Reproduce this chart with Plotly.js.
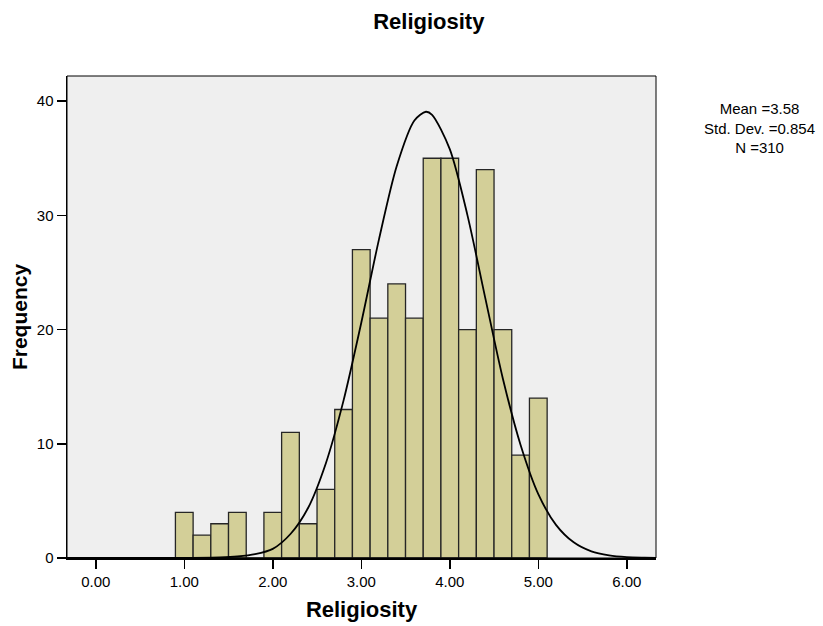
<!DOCTYPE html>
<html>
<head>
<meta charset="utf-8">
<script src="https://cdn.plot.ly/plotly-3.0.1.min.js"></script>
<style>html,body{margin:0;padding:0;background:#fff;}#chart{width:823px;height:626px;}</style>
</head>
<body>
<div id="chart"></div>
<script>
// Histogram bins (centres, bin width 0.2) and frequencies
const binCenters = [1.0, 1.2, 1.4, 1.6, 1.8, 2.0, 2.2, 2.4, 2.6, 2.8, 3.0, 3.2, 3.4, 3.6, 3.8, 4.0, 4.2, 4.4, 4.6, 4.8, 5.0];
const frequencies = [4, 2, 3, 4, 0, 4, 11, 3, 6, 13, 27, 21, 24, 21, 35, 35, 20, 34, 20, 9, 14];
const binWidth = 0.2;

// Normal curve, values
const curveX = [-0.33, 0.5, 1.0, 1.4, 1.6, 1.8, 2.0, 2.2, 2.4, 2.6, 2.8, 3.0, 3.2, 3.4, 3.6, 3.73, 3.8, 4.0, 4.2, 4.4, 4.6, 4.8, 5.0, 5.2, 5.4, 5.6, 5.8, 6.0, 6.2, 6.33];
const curveY = [0, 0, 0.01, 0.05, 0.13, 0.33, 0.8, 2.1, 4.4, 8.3, 13.8, 20.6, 27.9, 34.3, 38.3, 39.07, 38.8, 35.8, 30.0, 22.8, 15.7, 9.9, 5.6, 2.9, 1.37, 0.58, 0.23, 0.08, 0.03, 0.01];

const xTicks = [0, 1, 2, 3, 4, 5, 6];
const xTickText = ["0.00", "1.00", "2.00", "3.00", "4.00", "5.00", "6.00"];
const yTicks = [0, 10, 20, 30, 40];

const statsLines = ["Mean =3.58", "Std. Dev. =0.854", "N =310"];

const font = "Liberation Sans, Arial, sans-serif";

const traces = [
  {
    type: "bar",
    x: binCenters,
    y: frequencies,
    width: binWidth,
    marker: { color: "#D3CF98", line: { color: "#262626", width: 1.3 } },
    hoverinfo: "x+y",
    showlegend: false
  },
  {
    type: "scatter",
    mode: "lines",
    x: curveX,
    y: curveY,
    line: { color: "#000000", width: 1.8, shape: "spline", smoothing: 0.8 },
    hoverinfo: "skip",
    showlegend: false
  }
];

const layout = {
  width: 823,
  height: 626,
  margin: { l: 67, r: 167, t: 76, b: 68 },
  paper_bgcolor: "#FFFFFF",
  plot_bgcolor: "#EFEFEF",
  font: { family: font, color: "#000", size: 15 },
  title: {
    text: "<b>Religiosity</b>",
    font: { family: font, size: 22, color: "#000" },
    x: 0.521, xref: "container", xanchor: "center",
    y: 0.966, yref: "container", yanchor: "middle"
  },
  bargap: 0,
  xaxis: {
    range: [-0.325, 6.33],
    tickvals: xTicks,
    ticktext: xTickText,
    ticks: "outside",
    ticklen: 9,
    tickwidth: 1.5,
    tickcolor: "#000",
    showgrid: false,
    zeroline: false,
    showline: true,
    linecolor: "#000",
    linewidth: 2,
    tickfont: { family: font, size: 15, color: "#000" },
    title: { text: "<b>Religiosity</b>", font: { family: font, size: 22, color: "#000" }, standoff: 13 }
  },
  yaxis: {
    range: [0, 42.2],
    tickvals: yTicks,
    ticks: "outside",
    ticklen: 9,
    tickwidth: 1.5,
    tickcolor: "#000",
    showgrid: false,
    zeroline: false,
    showline: true,
    linecolor: "#000",
    linewidth: 1.5,
    tickfont: { family: font, size: 15, color: "#000" },
    ticklabelstandoff: 0,
    title: { text: "<b>Frequency</b>", font: { family: font, size: 21, color: "#000" }, standoff: 3 }
  },
  shapes: [
    { type: "rect", xref: "paper", yref: "paper", x0: 0, x1: 1, y0: 0, y1: 1, line: { color: "#000", width: 1 }, fillcolor: "rgba(0,0,0,0)" }
  ],
  annotations: [
    {
      xref: "paper", yref: "paper",
      x: 1 + (760 - 656) / 589, y: 1 - (128 - 76) / 482,
      xanchor: "center", yanchor: "middle",
      text: statsLines.join("<br>"),
      showarrow: false, align: "center",
      font: { family: font, size: 15, color: "#000" }
    }
  ]
};

Plotly.newPlot("chart", traces, layout, { displayModeBar: false, staticPlot: true });
</script>
</body>
</html>
